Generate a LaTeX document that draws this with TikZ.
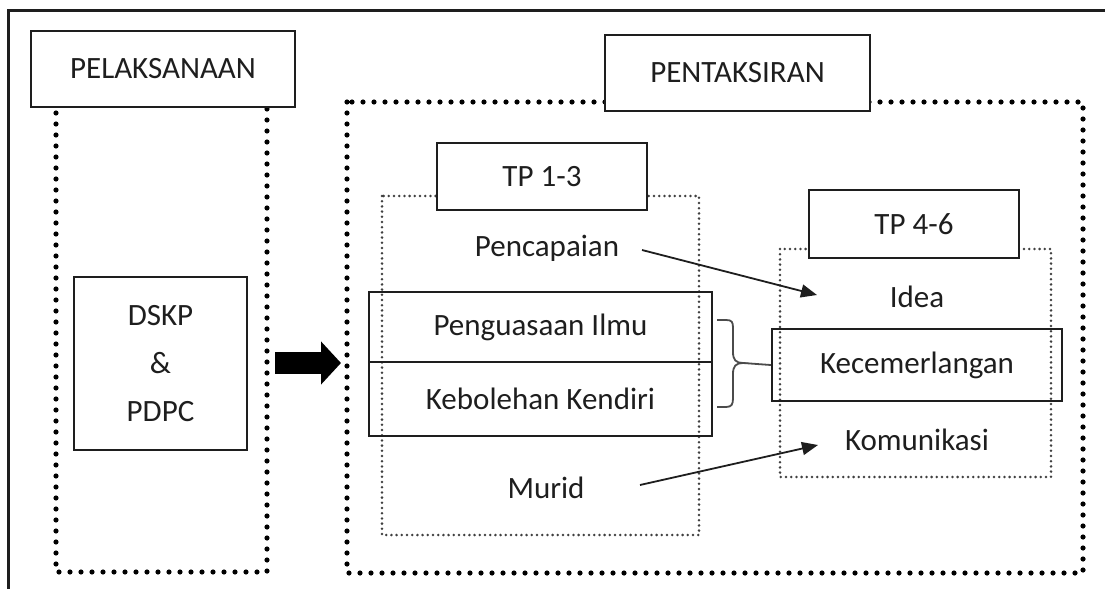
\documentclass[tikz,border=0pt]{standalone}
\usepackage{fontspec}
\setmainfont{Carlito}
\usetikzlibrary{arrows.meta}
\definecolor{ink}{HTML}{1E1E1E}
\tikzset{
  box/.style={draw=ink, line width=1.2pt, fill=white, text=ink, inner sep=0pt, align=center},
  openbox/.style={draw=ink, line width=1.2pt, text=ink, inner sep=0pt, align=center},
  lbl/.style={text=ink, inner sep=2pt},
  bigdots/.style={draw=black, line width=2.6pt, line cap=round, dash pattern=on 0pt off 5.5pt},
  thindots/.style={draw=ink!85, line width=1.4pt, line cap=round, dash pattern=on 0pt off 2.6pt},
  arr/.style={draw=ink, line width=0.9pt, -{Triangle[length=8pt,width=6.5pt]}},
  bracestyle/.style={draw=ink!80, line width=0.9pt},
}
\begin{document}
\begin{tikzpicture}[x=0.5pt,y=-0.5pt, font=\fontsize{15.5pt}{24pt}\selectfont]
\useasboundingbox (0,0) rectangle (1105,589);
% outer frame
\draw[line width=1.5pt, ink] (8,589) -- (8,10) -- (1105,10);
% dotted frames
\draw[bigdots] (56,69) rectangle (267,572);
\draw[bigdots] (347,102) rectangle (1083,573);
\draw[thindots] (382,196) rectangle (699,535);
\draw[thindots] (780,249) rectangle (1051,477);
% header boxes
\node[box, minimum width=132pt, minimum height=38pt] (pel) at (163,69) {PELAKSANAAN};
\node[box, minimum width=132.5pt, minimum height=38pt] (pent) at (737.5,73) {PENTAKSIRAN};
\node[box, minimum width=105pt, minimum height=33.5pt] (tp13) at (542,176.5) {TP 1-3};
\node[box, minimum width=105pt, minimum height=34pt] (tp46) at (914,224) {TP 4-6};
% left content
\node[box, minimum width=86.5pt, minimum height=86.5pt] (dskp) at (160.5,363.5) {DSKP\\\&\\PDPC};
% big arrow
\coordinate (bigA) at (275,363);
\coordinate (bigB) at (341,363);
\draw[line width=11pt, black, -{Triangle[length=10pt,width=21pt]}] (bigA) -- (bigB);
% TP 1-3 content
\node[lbl] (pen) at (547,248) {Pencapaian};
\node[openbox, minimum width=171.5pt, minimum height=35pt] (pi) at (540.5,327) {Penguasaan Ilmu};
\node[openbox, minimum width=171.5pt, minimum height=37pt] (kk) at (540.5,399) {Kebolehan Kendiri};
\node[lbl] (murid) at (546,488) {Murid};
% TP 4-6 content
\node[lbl] (idea) at (917,297) {Idea};
\node[openbox, minimum width=145pt, minimum height=36pt] (kec) at (917,365) {Kecemerlangan};
\node[lbl] (kom) at (917,440) {Komunikasi};
% brace
\coordinate (brT) at (717,320);
\coordinate (brB) at (717,407);
\coordinate (brTip) at (743,363);
\draw[bracestyle] (brT) -- (726,320) .. controls (732,320) and (733,322) .. (733,328)
  -- (733,352) .. controls (733,360) and (736,363) .. (brTip)
  .. controls (736,363) and (733,366) .. (733,374)
  -- (733,398) .. controls (733,404) and (732,407) .. (726,407) -- (brB);
\draw[bracestyle] (brTip) -- (kec.west);
% arrows
\coordinate (a1s) at (642,250);
\coordinate (a1e) at (817,295);
\coordinate (a2s) at (640,485);
\coordinate (a2e) at (818,445);
\draw[arr] (a1s) -- (a1e);
\draw[arr] (a2s) -- (a2e);
\end{tikzpicture}
\end{document}
